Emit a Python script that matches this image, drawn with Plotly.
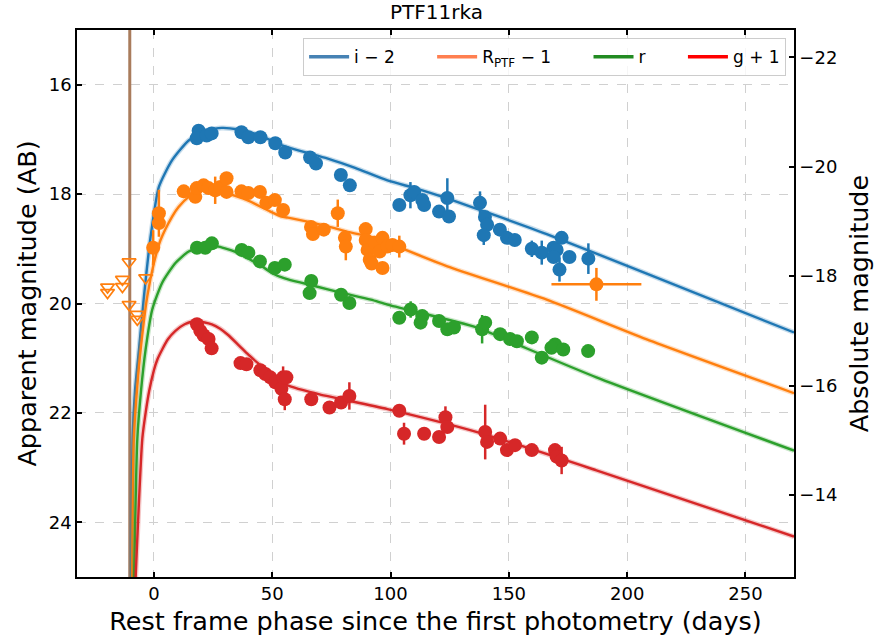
import plotly.graph_objects as go

DIST_MOD = 37.5
T_EXP = -10.2

# ---------------- data: i - 2 ----------------
i_days = [18.9, 18.1, 22.3, 24.4, 37.0, 39.9, 45.0, 51.3, 55.5, 66.0, 68.5, 79.0, 82.8,
          103.7, 108.4, 110.0, 113.4, 114.2, 120.5, 124.0, 124.7, 137.8, 139.9, 140.8, 139.4,
          146.2, 149.2, 152.5, 159.7, 163.9, 168.9, 172.3, 170.2, 168.9, 171.4, 175.6, 183.6]
i_mags = [16.84, 16.98, 16.93, 16.89, 16.87, 16.96, 16.96, 17.07, 17.24, 17.33, 17.44, 17.65, 17.84,
          18.20, 18.02, 17.96, 18.11, 18.20, 18.32, 18.07, 18.41, 18.16, 18.42, 18.56, 18.75,
          18.65, 18.80, 18.84, 19.00, 19.07, 18.98, 18.80, 19.02, 19.15, 19.38, 19.15, 19.18]
i_errs = [0.05, 0.05, 0.05, 0.05, 0.05, 0.05, 0.05, 0.05, 0.05, 0.08, 0.05, 0.05, 0.05,
          0.05, 0.24, 0.05, 0.05, 0.05, 0.05, 0.36, 0.05, 0.21, 0.05, 0.05, 0.18,
          0.05, 0.05, 0.05, 0.15, 0.22, 0.05, 0.05, 0.05, 0.10, 0.22, 0.05, 0.28]

# ---------------- data: R_PTF - 1 ----------------
R_days = [-0.3, 2.1, 2.1, 12.6, 17.5, 18.1, 21.0, 23.1, 25.9, 28.0, 30.7, 30.7, 37.0, 39.9,
          44.8, 47.5, 51.1, 54.6, 66.4, 67.2, 71.8, 77.7, 80.7, 81.1, 89.5, 89.5, 90.3, 91.2,
          92.0, 93.3, 95.4, 96.6, 96.6, 98.7, 100.8, 103.7]
R_mags = [18.98, 18.53, 18.35, 17.95, 18.05, 17.89, 17.84, 17.89, 17.93, 17.87, 17.71, 17.96, 17.95, 17.98,
          17.96, 18.16, 18.11, 18.29, 18.60, 18.73, 18.65, 18.35, 18.80, 18.96, 18.64, 18.84, 19.02, 19.20,
          19.27, 18.89, 19.05, 18.80, 19.35, 18.96, 18.93, 18.96]
R_errs = [0.32, 0.05, 0.43, 0.05, 0.05, 0.05, 0.05, 0.05, 0.25, 0.05, 0.05, 0.05, 0.05, 0.05,
          0.05, 0.05, 0.05, 0.05, 0.05, 0.05, 0.05, 0.25, 0.05, 0.25, 0.05, 0.10, 0.10, 0.10,
          0.05, 0.10, 0.10, 0.10, 0.05, 0.05, 0.05, 0.20]
R_late_day = [187.0]
R_late_mag = [19.65]
R_late_xerr = [19.0]
R_late_yerr = [0.30]

# upper limits (R_PTF - 1)
lim_days = [-19.6, -19.6, -13.3, -13.3, -10.5, -10.5, -7.0, -7.0, -3.5]
lim_mags = [19.70, 19.80, 19.56, 19.69, 19.24, 20.02, 20.20, 20.29, 19.53]

# ---------------- data: r ----------------
r_days = [18.2, 21.7, 24.5, 37.1, 39.9, 44.8, 51.1, 55.3, 66.5, 65.8, 79.1, 82.6,
          103.7, 108.5, 113.4, 112.7, 120.5, 124.0, 126.8, 138.7, 140.0, 146.3, 150.5,
          153.4, 159.7, 163.9, 169.5, 168.0, 173.0, 183.5]
r_mags = [18.98, 18.98, 18.90, 19.02, 19.07, 19.23, 19.35, 19.29, 19.59, 19.81, 19.84, 19.99,
          20.26, 20.11, 20.23, 20.35, 20.32, 20.47, 20.44, 20.47, 20.35, 20.56, 20.65,
          20.69, 20.62, 20.99, 20.75, 20.81, 20.84, 20.87]
r_errs = [0.05, 0.05, 0.05, 0.05, 0.05, 0.05, 0.05, 0.05, 0.05, 0.06, 0.05, 0.05,
          0.05, 0.15, 0.05, 0.10, 0.05, 0.05, 0.05, 0.26, 0.05, 0.05, 0.05,
          0.05, 0.05, 0.10, 0.10, 0.05, 0.05, 0.10]

# ---------------- data: g + 1 ----------------
g_days = [18.2, 19.6, 21.0, 23.1, 24.4, 36.6, 39.1, 45.0, 47.1, 49.2, 51.3, 53.9, 54.6, 56.0,
          55.3, 66.5, 74.2, 79.1, 82.6, 103.7, 105.7, 114.2, 120.5, 123.2, 124.0, 140.0,
          140.8, 146.3, 149.2, 152.6, 159.7, 169.5, 170.2, 172.3]
g_mags = [20.38, 20.50, 20.58, 20.65, 20.82, 21.09, 21.11, 21.22, 21.29, 21.35, 21.44, 21.56, 21.35, 21.35,
          21.75, 21.75, 21.90, 21.81, 21.69, 21.96, 22.38, 22.38, 22.44, 22.08, 22.26, 22.35,
          22.53, 22.47, 22.68, 22.59, 22.68, 22.68, 22.80, 22.87]
g_errs = [0.05, 0.05, 0.05, 0.05, 0.05, 0.05, 0.05, 0.05, 0.05, 0.05, 0.05, 0.05, 0.20, 0.05,
          0.20, 0.05, 0.05, 0.05, 0.25, 0.10, 0.20, 0.10, 0.05, 0.20, 0.05, 0.50,
          0.10, 0.05, 0.05, 0.10, 0.10, 0.10, 0.05, 0.25]

# ---------------- model curves ----------------
i_mod_days = [-9.6, -9.0, -8.0, -6.3, -4.2, -1.4, 2.1, 7.7, 14.7, 21.7, 28.7, 35.7, 45.0, 52.5,
              61.0, 73.5, 85.0, 98.7, 111.0, 124.0, 145.0, 166.0, 208.0, 270.5]
i_mod_mags = [25.3, 22.47, 21.6, 20.84, 19.87, 18.78, 17.87, 17.38, 17.02, 16.84, 16.79, 16.82, 16.93, 17.08,
              17.20, 17.35, 17.52, 17.75, 17.90, 18.08, 18.40, 18.73, 19.45, 20.53]

R_mod_days = [-9.2, -8.5, -7.0, -5.6, -2.8, 0.0, 2.8, 7.7, 10.5, 14.7, 21.7, 25.0, 32.9, 39.9,
              48.3, 53.9, 56.7, 73.5, 81.9, 94.5, 102.9, 124.0, 166.0, 208.0, 270.5]
R_mod_mags = [25.3, 22.47, 21.5, 20.84, 19.87, 19.26, 18.84, 18.41, 18.23, 18.05, 17.87, 17.85, 18.01, 18.12,
              18.30, 18.41, 18.43, 18.59, 18.69, 18.81, 18.96, 19.32, 19.93, 20.65, 21.64]

r_mod_days = [-8.5, -7.0, -5.5, -3.5, -0.7, 3.5, 9.1, 14.7, 21.7, 27.3, 35.7, 45.5, 51.1, 56.7,
              67.9, 79.0, 91.7, 98.7, 136.6, 152.0, 187.0, 270.5]
r_mod_mags = [25.3, 22.47, 21.62, 20.84, 20.11, 19.62, 19.26, 19.05, 18.96, 18.96, 19.08, 19.32, 19.47, 19.56,
              19.68, 19.80, 19.93, 20.02, 20.44, 20.72, 21.35, 22.69]

g_mod_days = [-8.0, -4.9, -3.5, -2.0, 0.0, 1.5, 3.5, 6.0, 9.1, 13.0, 17.5, 24.5, 28.0, 31.5, 36.0,
              40.0, 45.0, 49.0, 52.9, 58.0, 70.0, 98.7, 136.6, 187.0, 270.5]
g_mod_mags = [25.3, 22.47, 22.0, 21.6, 21.22, 21.02, 20.84, 20.65, 20.50, 20.38, 20.32, 20.38, 20.46,
              20.58, 20.77, 20.94, 21.13, 21.28, 21.42, 21.52, 21.66, 21.93, 22.35, 23.05, 24.26]

x_ticks = [0, 50, 100, 150, 200, 250]
y_ticks = [16, 18, 20, 22, 24]
abs_ticks = [-22, -20, -18, -16, -14]
x_range = [-32.5, 270.5]
y_range = [25.0, 15.0]

C_I, C_R, C_r, C_g = "#1f77b4", "#ff7f0e", "#2ca02c", "#d62728"
PAD = "\u00a0" * 6
LEG = [("i \u2212 2" + PAD, "#4682b4"), ("R<sub>PTF</sub> \u2212 1" + PAD, "#ff7f50"),
       ("r" + PAD, "#228b22"), ("g + 1", "#ff0000")]

FONT = "DejaVu Sans"
TICK_SIZE = 18
LABEL_SIZE = 25.5

fig = go.Figure()

# explosion epoch
fig.add_trace(go.Scatter(x=[T_EXP, T_EXP], y=[14, 26], mode="lines",
                         line=dict(color="#a97c5c", width=3), showlegend=False, hoverinfo="skip"))

# models
for d, m, c in [(i_mod_days, i_mod_mags, C_I), (R_mod_days, R_mod_mags, C_R),
                (r_mod_days, r_mod_mags, C_r), (g_mod_days, g_mod_mags, C_g)]:
    fig.add_trace(go.Scatter(x=d, y=m, mode="lines", line=dict(color=c, width=5, shape="spline", smoothing=0.6),
                             opacity=0.25, showlegend=False, hoverinfo="skip"))
    fig.add_trace(go.Scatter(x=d, y=m, mode="lines", line=dict(color=c, width=2.4, shape="spline", smoothing=0.6),
                             showlegend=False, hoverinfo="skip"))

# data
for d, m, e, c in [(i_days, i_mags, i_errs, C_I), (R_days, R_mags, R_errs, C_R),
                   (r_days, r_mags, r_errs, C_r), (g_days, g_mags, g_errs, C_g)]:
    fig.add_trace(go.Scatter(x=d, y=m, mode="markers",
                             marker=dict(size=14, color=c, line=dict(width=0)),
                             error_y=dict(type="data", array=e, thickness=2.5, width=0, color=c),
                             showlegend=False))

fig.add_trace(go.Scatter(x=R_late_day, y=R_late_mag, mode="markers",
                         marker=dict(size=14, color=C_R),
                         error_x=dict(type="data", array=R_late_xerr, thickness=2.5, width=0, color=C_R),
                         error_y=dict(type="data", array=R_late_yerr, thickness=2.5, width=0, color=C_R),
                         showlegend=False))

fig.add_trace(go.Scatter(x=lim_days, y=lim_mags, mode="markers",
                         marker=dict(symbol="triangle-down-open", size=12, color=C_R,
                                     line=dict(width=1.7, color=C_R)),
                         showlegend=False))

# legend handles
for name, c in LEG:
    fig.add_trace(go.Scatter(x=[None], y=[None], mode="lines", name=name,
                             line=dict(color=c, width=3.5)))

# twin axis carrier
fig.add_trace(go.Scatter(x=[0], y=[-18], yaxis="y2", mode="markers",
                         marker=dict(opacity=0), showlegend=False, hoverinfo="skip"))

axis_common = dict(showline=True, linewidth=1.5, linecolor="black", ticks="inside",
                   ticklen=5, tickwidth=1.5, tickcolor="black", zeroline=False,
                   tickfont=dict(family=FONT, size=TICK_SIZE, color="black"))

fig.update_layout(
    width=881, height=643,
    margin=dict(l=77, r=85, t=30, b=66),
    plot_bgcolor="white", paper_bgcolor="white",
    font=dict(family=FONT, color="black"),
    title=dict(text="PTF11rka", x=0.4955, xanchor="center", y=0.982, yanchor="middle",
               yref="container", font=dict(family=FONT, size=20, color="black")),
    xaxis=dict(range=x_range, tickvals=x_ticks, mirror="ticks",
               showgrid=True, gridcolor="#d0d0d0", griddash="dash", gridwidth=1,
               title=dict(text="Rest frame phase since the first photometry (days)",
                          font=dict(family=FONT, size=LABEL_SIZE), standoff=9),
               **axis_common),
    yaxis=dict(range=y_range, tickvals=y_ticks, mirror=False,
               showgrid=True, gridcolor="#d0d0d0", griddash="dash", gridwidth=1,
               title=dict(text="Apparent magnitude (AB)", font=dict(family=FONT, size=LABEL_SIZE), standoff=5),
               **axis_common),
    yaxis2=dict(range=[y_range[0] - DIST_MOD, y_range[1] - DIST_MOD], tickvals=abs_ticks,
                ticktext=["\u2212" + str(abs(t)) for t in abs_ticks],
                overlaying="y", side="right", showgrid=False,
                title=dict(text="Absolute magnitude", font=dict(family=FONT, size=LABEL_SIZE), standoff=14),
                **axis_common),
    legend=dict(orientation="h", x=0.989, xanchor="right", y=0.985, yanchor="top",
                bgcolor="rgba(255,255,255,0.8)", bordercolor="#cccccc", borderwidth=1,
                font=dict(family=FONT, size=17), itemwidth=40),
    showlegend=True,
)

fig.write_html("out.html")
